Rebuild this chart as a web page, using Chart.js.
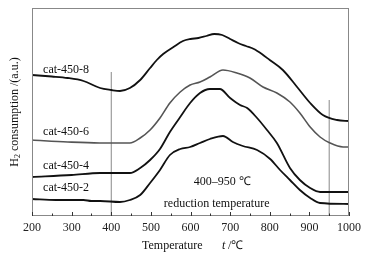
<!DOCTYPE html>
<html>
<head>
<meta charset="utf-8">
<script src="https://cdn.jsdelivr.net/npm/chart.js@4"></script>
<style>
  html, body { margin: 0; padding: 0; background: #fff; }
  #wrap { width: 375px; height: 256px; }
</style>
</head>
<body>
<div id="wrap"><canvas id="tprChart"></canvas></div>
<script>
// temperatures (℃) and read-off signal (a.u.) for each sample
const temps8 = [200, 250, 290, 330, 372, 400, 422, 447, 473, 498, 515, 531, 557, 581, 600, 620, 640, 660, 680, 700, 720, 740, 760, 780, 800, 833, 869, 902, 934, 970, 1000];
const vals8  = [141, 139.5, 138, 135, 128, 126, 125, 128, 136, 148, 156, 162, 169, 175, 177, 178, 180, 182, 181, 177, 173, 170, 167, 162, 156, 146, 129, 113, 101, 96, 95];

const temps6 = [200, 290, 370, 447, 473, 498, 523, 548, 574, 599, 624, 649, 682, 717, 750, 783, 818, 851, 876, 902, 927, 952, 985, 1000];
const vals6  = [76, 74, 73, 73, 78, 86, 98, 113, 124, 131, 134, 139, 146, 143, 138, 129, 123, 114, 103, 89, 79, 73, 69, 69];

const temps4 = [200, 300, 372, 447, 473, 498, 523, 548, 574, 599, 624, 649, 674, 700, 725, 743, 768, 793, 818, 851, 876, 902, 927, 1000];
const vals4  = [39, 41, 43, 43, 48, 56, 67, 84, 99, 113, 123, 127, 127, 118, 111, 108, 98, 86, 73, 48, 36, 28, 24, 24];

const temps2 = [200, 260, 330, 350, 372, 422, 447, 473, 498, 523, 548, 574, 599, 624, 649, 682, 707, 732, 768, 801, 826, 851, 876, 902, 927, 1000];
const vals2  = [17, 16, 16, 15, 15, 14, 16, 21, 33, 46, 61, 67, 69, 73, 77, 80, 74, 70, 66, 57, 46, 36, 26, 18, 13, 12];

const seriesNames = ["cat-450-8", "cat-450-6", "cat-450-4", "cat-450-2"];
const xTicks = [200, 300, 400, 500, 600, 700, 800, 900, 1000];
const markerTemps = [400, 950];
const markerTops = [144, 116];

function pts(xs, ys) {
    return xs.map(function (x, i) { return { x: x, y: ys[i] }; });
}

const serif = "'Liberation Serif', 'Times New Roman', serif";

const curves = [
    { data: pts(temps8, vals8), color: "#111", width: 1.8 },
    { data: pts(temps6, vals6), color: "#555", width: 1.6 },
    { data: pts(temps4, vals4), color: "#111", width: 1.8 },
    { data: pts(temps2, vals2), color: "#111", width: 1.8 },
];

const datasets = curves.map(function (c, i) {
    return {
        label: seriesNames[i],
        data: c.data,
        borderColor: c.color,
        borderWidth: c.width,
        pointRadius: 0,
        cubicInterpolationMode: "monotone",
    };
});

markerTemps.forEach(function (t, i) {
    datasets.push({
        label: "marker" + t,
        data: [{ x: t, y: 0 }, { x: t, y: markerTops[i] }],
        borderColor: "#888",
        borderWidth: 1,
        pointRadius: 0,
    });
});

const decorPlugin = {
    id: "decor",
    afterDraw: function (chart) {
        const ctx = chart.ctx;
        const area = chart.chartArea;
        const xs = chart.scales.x;
        const ys = chart.scales.y;
        ctx.save();

        // frame
        ctx.strokeStyle = "#888";
        ctx.lineWidth = 1;
        ctx.strokeRect(area.left + 0.5, area.top + 0.5, area.right - area.left - 1, area.bottom - area.top - 1);

        // inward ticks on bottom axis
        ctx.strokeStyle = "#333";
        for (let v = 200; v <= 1000; v += 50) {
            const px = Math.round(xs.getPixelForValue(v)) + 0.5;
            const len = (v % 100 === 0) ? 4 : 2.5;
            ctx.beginPath();
            ctx.moveTo(px, area.bottom);
            ctx.lineTo(px, area.bottom - len);
            ctx.stroke();
        }

        ctx.fillStyle = "#111";
        ctx.font = "12px " + serif;
        ctx.textBaseline = "middle";
        ctx.textAlign = "left";

        // series labels
        const labelSpots = [[228, 146], [228, 84], [228, 50], [228, 28]];
        seriesNames.forEach(function (name, i) {
            ctx.fillText(name, xs.getPixelForValue(labelSpots[i][0]), ys.getPixelForValue(labelSpots[i][1]));
        });

        // annotation
        ctx.textAlign = "center";
        ctx.fillText("400\u2013950 \u2103", xs.getPixelForValue(680), ys.getPixelForValue(34));
        ctx.fillText("reduction temperature", xs.getPixelForValue(666), ys.getPixelForValue(12));

        // x-axis title
        ctx.textAlign = "left";
        ctx.font = "12px " + serif;
        ctx.fillText("Temperature", 142, 246);
        ctx.font = "italic 12px " + serif;
        ctx.fillText("t", 222, 246);
        ctx.font = "12px " + serif;
        ctx.fillText(" /\u2103", 225, 246);

        // y-axis title, rotated, with subscript
        ctx.translate(15, (area.top + area.bottom) / 2);
        ctx.rotate(-Math.PI / 2);
        const main = " consumption /(a.u.)";
        ctx.font = "12px " + serif;
        const wH = ctx.measureText("H").width;
        const wMain = ctx.measureText(main).width;
        ctx.font = "8px " + serif;
        const w2 = ctx.measureText("2").width;
        let x0 = -(wH + w2 + wMain) / 2;
        ctx.font = "12px " + serif;
        ctx.fillText("H", x0, 0);
        ctx.font = "8px " + serif;
        ctx.fillText("2", x0 + wH, 3);
        ctx.font = "12px " + serif;
        ctx.fillText(main, x0 + wH + w2, 0);

        ctx.restore();
    },
};

new Chart(document.getElementById("tprChart"), {
    type: "line",
    data: { datasets: datasets },
    options: {
        responsive: true,
        maintainAspectRatio: false,
        animation: false,
        events: [],
        layout: { padding: { top: 8, right: 26, left: 0, bottom: 0 } },
        plugins: {
            legend: { display: false },
            tooltip: { enabled: false },
        },
        scales: {
            x: {
                type: "linear",
                min: 200,
                max: 1000,
                grid: { display: false, drawTicks: false },
                border: { display: false },
                afterBuildTicks: function (scale) {
                    scale.ticks = xTicks.map(function (v) { return { value: v }; });
                },
                afterFit: function (scale) { scale.height = 40; },
                ticks: {
                    padding: 5,
                    color: "#222",
                    maxRotation: 0,
                    autoSkip: false,
                    font: { family: serif, size: 12 },
                    callback: function (v) { return String(v); },
                },
            },
            y: {
                min: 0,
                max: 208,
                grid: { display: false, drawTicks: false },
                border: { display: false },
                ticks: { display: false },
                afterFit: function (scale) { scale.width = 32; },
            },
        },
    },
    plugins: [decorPlugin],
});
</script>
</body>
</html>
